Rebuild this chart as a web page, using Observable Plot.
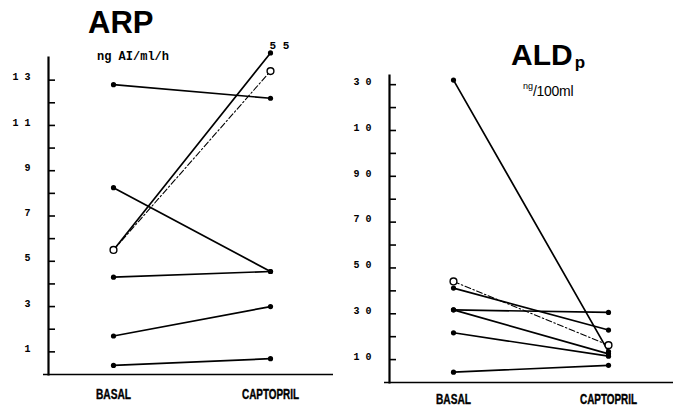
<!DOCTYPE html>
<html><head><meta charset="utf-8">
<script src="https://cdn.jsdelivr.net/npm/d3@7"></script>
<script src="https://cdn.jsdelivr.net/npm/@observablehq/plot@0.6"></script>
<style>
body{margin:0;background:#fff;}
#wrap{position:relative;width:681px;height:409px;overflow:hidden;background:#fff;}
#wrap svg{position:absolute;top:0;}
</style></head><body>
<div id="wrap"></div>
<script>
// ---- data ----
const categories = ["BASAL", "CAPTOPRIL"];

// ARP (ng AI/ml/h), six subjects
const arpBasal     = [12.8, 8.25, 4.3, 1.7, 0.4, 5.5];
const arpCaptopril = [12.2, 4.55, 4.55, 3.0, 0.7, 55];
const arpMean      = [5.5, 13.4];
const arpTicks      = [1,2,3,4,5,6,7,8,9,10,11,12,13];
const arpLabelTicks = [1,3,5,7,9,11,13];
const arpTickLabels = ["1","3","5","7","9","1 1","1 3"];
const arpOffscaleAt = 14.2;   // where the off-scale value (55) is drawn

// ALDp (ng/100 ml), six subjects
const aldBasal     = [132, 41.2, 31.7, 31.7, 21.7, 4.5];
const aldCaptopril = [13.5, 22.9, 30.6, 12.5, 11.5, 7.5];
const aldMean      = [44.1, 16.3];
const aldTicks      = [10,20,30,40,50,60,70,80,90,100,110,120,130];
const aldLabelTicks = [10,30,50,70,90,110,130];
const aldTickLabels = ["1 0","3 0","5 0","7 0","9 0","1 0","3 0"];

// ---- helpers ----
function rows(basal, capt) {
  return basal.flatMap((b, i) => [
    {id: i, phase: categories[0], v: b},
    {id: i, phase: categories[1], v: capt[i]}
  ]);
}
function meanRows(m) { return m.map((v, i) => ({phase: categories[i], v})); }

const labelFont = "'Liberation Sans',Arial,sans-serif";
const monoFont = "'Liberation Mono','DejaVu Sans Mono',monospace";

function panel({basal, capt, mean, ticks, labelTicks, tickLabels, domain, yRange, xRange,
                width, marginLeft, marginRight, marginTop, marginBottom, offscale, xPad}) {
  const data = rows(basal, capt);
  const yv = d => (offscale !== undefined && d.v > domain[1]) ? offscale : d.v;
  const off = data.filter(d => d.v > domain[1]);
  return Plot.plot({
    width, height: 409, marginLeft, marginRight, marginTop, marginBottom,
    style: {background: "#fff", color: "#000", overflow: "visible"},
    x: {type: "point", domain: categories, range: xRange, padding: 0},
    y: {domain, range: yRange},
    marks: [
      Plot.frame({anchor: "left", strokeWidth: 2.2, stroke: "#000"}),
      Plot.ruleY([0], {stroke: "#000", strokeWidth: 1.6, insetLeft: -5}),
      Plot.axisY({ticks, tickSize: 7, dx: 7, tickFormat: () => "", label: null, strokeWidth: 1.6}),
      Plot.axisY({ticks: labelTicks, tickSize: 0, tickPadding: 18, dy: -3, label: null,
        tickFormat: d => tickLabels[labelTicks.indexOf(d)],
        fontFamily: monoFont, fontWeight: "bold", fontSize: 10}),
      Plot.axisX({tickSize: 0, tickPadding: xPad, label: null,
        fontFamily: labelFont, fontWeight: "bold", fontSize: 14}),
      Plot.line(data, {x: "phase", y: yv, z: "id", stroke: "#000", strokeWidth: 1.7}),
      Plot.dot(data, {x: "phase", y: yv, r: 2.6, fill: "#000"}),
      Plot.line(meanRows(mean), {x: "phase", y: "v", stroke: "#000", strokeWidth: 1.1,
        strokeDasharray: "6,2.5,1.5,2.5"}),
      Plot.dot(meanRows(mean), {x: "phase", y: "v", r: 3.4, fill: "#fff", stroke: "#000", strokeWidth: 1.4}),
      Plot.text(off, {x: "phase", y: yv, text: d => String(d.v).split("").join(" "),
        dx: 9, dy: -8, fontFamily: monoFont, fontWeight: "bold", fontSize: 11})
    ]
  });
}

const left = panel({basal: arpBasal, capt: arpCaptopril, mean: arpMean, ticks: arpTicks,
  labelTicks: arpLabelTicks, tickLabels: arpTickLabels, domain: [0, 14], yRange: [374, 57],
  xRange: [113, 270], width: 340, marginLeft: 48, marginRight: 7, marginTop: 57, marginBottom: 35,
  offscale: arpOffscaleAt, xPad: 15});
const right = panel({basal: aldBasal, capt: aldCaptopril, mean: aldMean, ticks: aldTicks,
  labelTicks: aldLabelTicks, tickLabels: aldTickLabels, domain: [0, 134], yRange: [382, 75],
  xRange: [113, 268], width: 341, marginLeft: 49, marginRight: 8, marginTop: 75, marginBottom: 27,
  xPad: 12});

const wrap = document.getElementById("wrap");
left.style.left = "0px";
right.style.left = "340px";
wrap.appendChild(left);
wrap.appendChild(right);

// condensed look for the category labels (BASAL / CAPTOPRIL)
const condensedWidth = {BASAL: 35, CAPTOPRIL: 57};
for (const svg of [left, right]) {
  d3.select(svg).selectAll('g[aria-label="x-axis tick label"] text').each(function() {
    const w = condensedWidth[this.textContent];
    if (w) d3.select(this).attr("textLength", w).attr("lengthAdjust", "spacingAndGlyphs")
      .attr("stroke", "#000").attr("stroke-width", 0.4);
  });
}

// titles & units
const sansBold = "'Liberation Sans',Arial,Helvetica,sans-serif";
const L = d3.select(left);
L.append("text").attr("x", 88).attr("y", 33).attr("text-anchor", "start").attr("font-family", sansBold)
  .attr("font-weight", "bold").attr("font-size", 31).attr("fill", "#000").text("ARP");
L.append("text").attr("x", 97).attr("y", 60).attr("text-anchor", "start").attr("font-family", monoFont)
  .attr("font-weight", "bold").attr("font-size", 12).attr("fill", "#000").text("ng AI/ml/h");

const R = d3.select(right);
const t = R.append("text").attr("x", 171).attr("y", 65).attr("text-anchor", "start").attr("font-family", sansBold)
  .attr("font-weight", "bold").attr("fill", "#000");
t.append("tspan").attr("font-size", 30).text("ALD");
t.append("tspan").attr("font-size", 17).attr("dx", 2).attr("dy", 3).text("p");
const u = R.append("text").attr("x", 183).attr("y", 96).attr("text-anchor", "start")
  .attr("font-family", "'Liberation Sans',Arial,sans-serif").attr("fill", "#000");
u.append("tspan").attr("font-size", 9).attr("dy", -7).text("ng");
u.append("tspan").attr("font-size", 14).attr("dy", 7).attr("letter-spacing", -0.3).text("/100ml");
</script>
</body></html>
